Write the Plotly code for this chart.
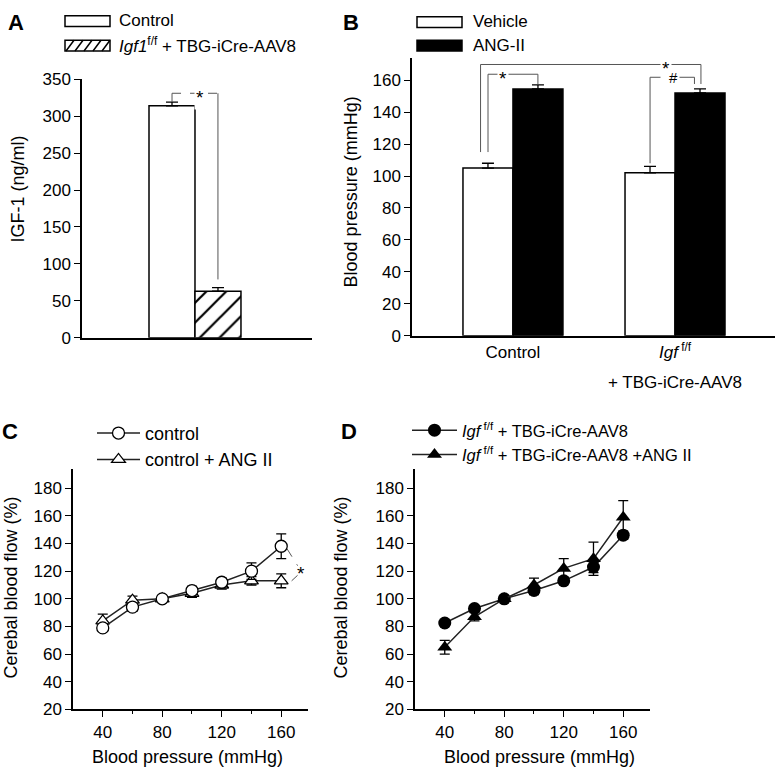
import plotly.graph_objects as go

# ---- data ----
# panel A: serum IGF-1
a_groups = ["Control", "Igf1 f/f + TBG-iCre-AAV8"]
a_values = [314, 63]
a_errors = [5, 5]

# panel B: blood pressure
b_categories = ["Control", "Igf f/f + TBG-iCre-AAV8"]
b_vehicle = [105, 102]
b_vehicle_err = [3, 4]
b_ang = [154.5, 152]
b_ang_err = [2.5, 2.5]

# panel C / D: cerebral blood flow vs blood pressure
bp = [40, 60, 80, 100, 120, 140, 160]
c_control = [79, 94, 100, 106, 112, 120, 138]
c_control_err = [2, 3, 0, 3, 3, 6, 9]
c_ang = [84, 99, 100, 104, 110, 113, 113]
c_ang_err = [5, 3, 0, 3, 3, 3, 5]
d_igf = [82.5, 93, 100, 106, 113, 123, 146]
d_igf_err = [2, 2, 0, 3, 2, 4, 3]
d_igf_ang = [65, 87, 100, 110, 122, 129, 159]
d_igf_ang_err = [5, 3, 0, 5, 7, 12, 12]

W, H = 776, 779
FONT = "Liberation Sans, Arial, sans-serif"


def px(x):
    return x / W


def py(y):
    return 1 - y / H


fig = go.Figure()

# panel A bars
fig.add_trace(go.Bar(x=["IGF-1"], y=[a_values[0]], xaxis="x", yaxis="y", name=a_groups[0],
                     marker=dict(color="white", line=dict(color="black", width=1.5)),
                     error_y=dict(type="data", symmetric=False, array=[a_errors[0]], arrayminus=[0],
                                  color="black", thickness=1.3, width=6),
                     showlegend=False))
fig.add_trace(go.Bar(x=["IGF-1"], y=[a_values[1]], xaxis="x", yaxis="y", name=a_groups[1],
                     marker=dict(color="white", line=dict(color="black", width=1.5),
                                 pattern=dict(shape="/", fgcolor="black", bgcolor="white",
                                              fgopacity=1, size=14, solidity=0.16)),
                     error_y=dict(type="data", symmetric=False, array=[a_errors[1]], arrayminus=[0],
                                  color="black", thickness=1.3, width=6),
                     showlegend=False))

# panel B bars
b_ticks = ["Control", "<i>Igf</i><sup> f/f</sup>"]
fig.add_trace(go.Bar(x=b_ticks, y=b_vehicle, xaxis="x2", yaxis="y2", name="Vehicle",
                     marker=dict(color="white", line=dict(color="black", width=1.5)),
                     error_y=dict(type="data", symmetric=False, array=b_vehicle_err,
                                  arrayminus=[0, 0], color="black", thickness=1.3, width=6),
                     showlegend=False))
fig.add_trace(go.Bar(x=b_ticks, y=b_ang, xaxis="x2", yaxis="y2", name="ANG-II",
                     marker=dict(color="black", line=dict(color="black", width=1.5)),
                     error_y=dict(type="data", symmetric=False, array=b_ang_err,
                                  arrayminus=[0, 0], color="black", thickness=1.3, width=6),
                     showlegend=False))

# panel C lines (triangles first so circles sit on top)
fig.add_trace(go.Scatter(x=bp, y=c_ang, xaxis="x3", yaxis="y3", mode="lines+markers",
                         name="control + ANG II", legend="legend", legendrank=2,
                         line=dict(color="#222", width=1.5),
                         marker=dict(symbol="triangle-up", size=12, color="white",
                                     line=dict(color="black", width=1.3)),
                         error_y=dict(type="data", array=c_ang_err, color="black",
                                      thickness=1.3, width=5)))
fig.add_trace(go.Scatter(x=bp, y=c_control, xaxis="x3", yaxis="y3", mode="lines+markers",
                         name="control", legend="legend", legendrank=1,
                         line=dict(color="#222", width=1.5),
                         marker=dict(symbol="circle", size=12, color="white",
                                     line=dict(color="black", width=1.3)),
                         error_y=dict(type="data", array=c_control_err, color="black",
                                      thickness=1.3, width=5)))

# panel D lines
fig.add_trace(go.Scatter(x=bp, y=d_igf, xaxis="x4", yaxis="y4", mode="lines+markers",
                         name="<i>Igf</i><sup> f/f</sup> + TBG-iCre-AAV8", legend="legend2",
                         legendrank=1,
                         line=dict(color="#222", width=1.5),
                         marker=dict(symbol="circle", size=13, color="black"),
                         error_y=dict(type="data", array=d_igf_err, color="black",
                                      thickness=1.3, width=5)))
fig.add_trace(go.Scatter(x=bp, y=d_igf_ang, xaxis="x4", yaxis="y4", mode="lines+markers",
                         name="<i>Igf</i><sup> f/f</sup> + TBG-iCre-AAV8 +ANG II", legend="legend2",
                         legendrank=2,
                         line=dict(color="#222", width=1.5),
                         marker=dict(symbol="triangle-up", size=13, color="black"),
                         error_y=dict(type="data", array=d_igf_ang_err, color="black",
                                      thickness=1.3, width=5)))

axis_common = dict(showline=True, linecolor="black", linewidth=1.5, showgrid=False,
                   zeroline=False, ticks="outside", ticklen=6, tickwidth=1.3, tickcolor="black",
                   tickfont=dict(family=FONT, size=17, color="black"))

fig.update_layout(
    width=W, height=H,
    margin=dict(l=0, r=0, t=0, b=0),
    paper_bgcolor="white", plot_bgcolor="white",
    font=dict(family=FONT, color="black", size=17),
    barmode="group", bargap=0.383, bargroupgap=0,
    xaxis=dict(axis_common, domain=[px(82), px(312)], range=[-0.758, 0.785], ticks="",
               showticklabels=False, anchor="y"),
    yaxis=dict(axis_common, domain=[py(337), py(72)], range=[0, 350], dtick=50, anchor="x"),
    xaxis2=dict(axis_common, domain=[px(412), px(775)], range=[-0.623, 1.617], ticks="",
                anchor="y2"),
    yaxis2=dict(axis_common, domain=[py(335), py(50)], range=[0, 174], dtick=20, anchor="x2"),
    xaxis3=dict(axis_common, domain=[px(73), px(308)], range=[20, 178], tickvals=[40, 80, 120, 160],
                minor=dict(tickvals=[60, 100, 140], ticklen=3, ticks="outside", tickcolor="black"),
                anchor="y3"),
    yaxis3=dict(axis_common, domain=[py(718), py(472)], range=[20, 193.5],
                tickvals=list(range(20, 181, 20)), anchor="x3"),
    xaxis4=dict(axis_common, domain=[px(415), px(650)], range=[20, 178], tickvals=[40, 80, 120, 160],
                minor=dict(tickvals=[60, 100, 140], ticklen=3, ticks="outside", tickcolor="black"),
                anchor="y4"),
    yaxis4=dict(axis_common, domain=[py(718), py(472)], range=[20, 193.5],
                tickvals=list(range(20, 181, 20)), anchor="x4"),
    legend=dict(x=px(92), y=py(416), xanchor="left", yanchor="top", bgcolor="rgba(0,0,0,0)",
                font=dict(family=FONT, size=18, color="black"), tracegroupgap=0, itemwidth=43),
    legend2=dict(x=px(407), y=py(414), xanchor="left", yanchor="top", bgcolor="rgba(0,0,0,0)",
                 font=dict(family=FONT, size=16.5, color="black"), tracegroupgap=0, itemwidth=45),
)

shapes = []
ann = []

# legend boxes for A
shapes.append(dict(type="rect", xref="paper", yref="paper", x0=px(65), x1=px(110), y0=py(18), y1=py(7),
                   line=dict(color="black", width=1.5), fillcolor="white"))
shapes.append(dict(type="rect", xref="paper", yref="paper", x0=px(65), x1=px(110), y0=py(43), y1=py(32),
                   line=dict(color="black", width=1.5), fillcolor="white"))
hatch = ""
for x0 in range(66, 104, 9):
    hatch += f"M{px(x0)},{py(43)} L{px(x0 + 8)},{py(32)} "
shapes.append(dict(type="path", xref="paper", yref="paper", path=hatch, line=dict(color="black", width=1.5)))
ann.append(dict(x=px(117), y=py(12), text=a_groups[0], xanchor="left"))
ann.append(dict(x=px(117), y=py(37), text="<i>Igf1</i><sup>f/f</sup> + TBG-iCre-AAV8", xanchor="left"))

# legend boxes for B
shapes.append(dict(type="rect", xref="paper", yref="paper", x0=px(417), x1=px(462), y0=py(19), y1=py(8),
                   line=dict(color="black", width=1.5), fillcolor="white"))
shapes.append(dict(type="rect", xref="paper", yref="paper", x0=px(417), x1=px(462), y0=py(43), y1=py(32),
                   line=dict(color="black", width=1.5), fillcolor="black"))
ann.append(dict(x=px(471), y=py(13), text="Vehicle", xanchor="left"))
ann.append(dict(x=px(471), y=py(37), text="ANG-II", xanchor="left"))
# second line of the Igf category label
ann.append(dict(x=px(675), y=py(383), text="+ TBG-iCre-AAV8", xanchor="center"))

for a in ann:
    a.update(xref="paper", yref="paper", showarrow=False, yanchor="middle",
             font=dict(family=FONT, size=17, color="black"))

# significance bracket, panel A
gray = dict(color="#555", width=1)
star_font = dict(family=FONT, size=19, color="black")
shapes.append(dict(type="path", xref="x", yref="y", path="M-0.154,319 L-0.154,331", line=gray))
shapes.append(dict(type="line", xref="x", yref="y", x0=-0.154, x1=0.154, y0=331, y1=331,
                   line=dict(color="#555", width=1, dash="dash")))
shapes.append(dict(type="line", xref="x", yref="y", x0=0.154, x1=0.154, y0=331, y1=79, line=gray))
ann.append(dict(x=0.034, y=331, xref="x", yref="y", text="*", showarrow=False, bgcolor="white",
                font=star_font, yshift=-4))

# significance brackets, panel B
shapes.append(dict(type="path", xref="x2", yref="y2", path="M-0.154,115 L-0.154,163.7 L0.154,163.7 L0.154,157.6",
                   line=gray))
shapes.append(dict(type="path", xref="x2", yref="y2", path="M-0.2,115 L-0.2,169.8 L1.16,169.8 L1.16,157.6",
                   line=gray))
shapes.append(dict(type="path", xref="x2", yref="y2", path="M0.846,108 L0.846,161.8 L1.12,161.8 L1.12,157.6",
                   line=gray))
ann.append(dict(x=-0.06, y=163.7, xref="x2", yref="y2", text="*", showarrow=False, bgcolor="white",
                font=star_font, yshift=-4))
ann.append(dict(x=0.944, y=169.8, xref="x2", yref="y2", text="*", showarrow=False, bgcolor="white",
                font=star_font, yshift=-4))
ann.append(dict(x=0.988, y=161.8, xref="x2", yref="y2", text="#", showarrow=False, bgcolor="white",
                font=dict(family=FONT, size=15, color="black")))

# significance, panel C
dash = dict(color="#555", width=1, dash="dash")
shapes.append(dict(type="line", xref="x3", yref="y3", x0=164, x1=171, y0=136, y1=124, line=dash))
shapes.append(dict(type="line", xref="x3", yref="y3", x0=171, x1=167, y0=117, y1=113, line=dash))
ann.append(dict(x=173.5, y=121, xref="x3", yref="y3", text="*", showarrow=False,
                font=star_font, yshift=-4))

# axis titles
title_font = dict(family=FONT, size=18, color="black")
for x, y, t, ang in [(18, 185, "IGF-1 (ng/ml)", -90),
                     (351, 188, "Blood pressure (mmHg)", -90),
                     (11, 593, "Cerebal blood flow (%)", -90),
                     (341, 593, "Cerebal blood flow (%)", -90),
                     (187, 767, "Blood pressure (mmHg)", 0),
                     (539, 767, "Blood pressure (mmHg)", 0)]:
    ann.append(dict(x=px(x), y=py(y), xref="paper", yref="paper", text=t, textangle=ang,
                    showarrow=False, font=title_font, xanchor="center", yanchor="middle"))

# panel letters
for x, y, t in [(16, 14, "A"), (351, 14, "B"), (10, 433, "C"), (349, 433, "D")]:
    ann.append(dict(x=px(x), y=py(y), xref="paper", yref="paper", text=f"<b>{t}</b>",
                    showarrow=False, font=dict(family=FONT, size=22, color="black"),
                    xanchor="center", yanchor="middle"))

fig.update_layout(shapes=shapes, annotations=ann)
fig.write_html("out.html", post_script="document.body.style.margin='0';",
               config={"displayModeBar": False})
